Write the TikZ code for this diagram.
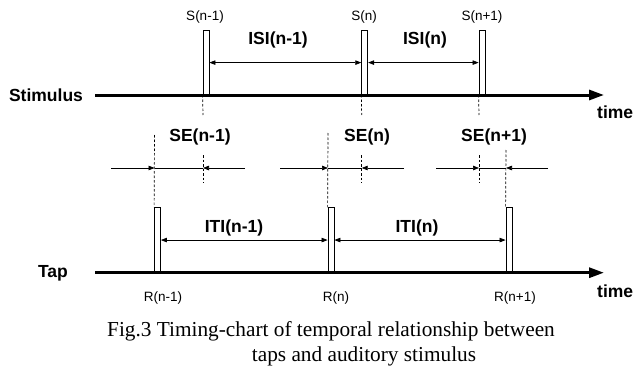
\documentclass[tikz,border=0pt]{standalone}
\usepackage{fontspec}
\setmainfont{Liberation Serif}
\setsansfont{Liberation Sans}
\usetikzlibrary{arrows.meta}
\tikzset{
  bar/.style={draw, fill=white, line width=0.8pt, minimum width=6pt, minimum height=64pt, inner sep=0pt, anchor=south},
  axisline/.style={line width=3pt, -{Triangle[length=15pt,width=10pt]}},
  dsh/.style={line width=0.7pt, dash pattern=on 2.5pt off 2pt},
  tip/.style={-{Triangle[length=6pt,width=4.5pt]}},
  dbl/.style={{Triangle[length=6pt,width=4.5pt]}-{Triangle[length=6pt,width=4.5pt]}},
  thin line/.style={line width=0.7pt},
  biglbl/.style={font=\sffamily\bfseries\fontsize{17.5}{20}\selectfont, inner sep=0pt},
  smalllbl/.style={font=\sffamily\fontsize{13.5}{15}\selectfont, inner sep=0pt},
  caplbl/.style={font=\fontsize{21.3}{24}\selectfont, inner sep=0pt, anchor=base west}
}
\begin{document}
\begin{tikzpicture}[x=1pt,y=-1pt]
\useasboundingbox (0,0) rectangle (637,369);

% stimulus bars
\node[bar] (s1) at (206,95) {};
\node[bar] (s2) at (364.7,95) {};
\node[bar] (s3) at (482,95) {};
% tap bars
\node[bar, minimum height=64.5pt] (r1) at (157.5,272.7) {};
\node[bar, minimum height=64.5pt] (r2) at (331,272.7) {};
\node[bar, minimum height=64.5pt] (r3) at (509,272.7) {};

% axes
\coordinate (sa) at (95,95);
\coordinate (sb) at (604,95);
\coordinate (ta) at (95,272.7);
\coordinate (tb) at (604,272.7);
\draw[axisline] (sa) -- (sb);
\draw[axisline] (ta) -- (tb);

% axis labels
\node[biglbl] (stim) at (46,95) {Stimulus};
\node[biglbl] (tap) at (53,273) {Tap};
\node[biglbl, anchor=west] (time1) at (597,112) {time};
\node[biglbl, anchor=west] (time2) at (597,291) {time};

% S labels
\node[smalllbl] (ls1) at (205,17) {S(n-1)};
\node[smalllbl] (ls2) at (364,17) {S(n)};
\node[smalllbl] (ls3) at (482,17) {S(n+1)};
% R labels
\node[smalllbl] (lr1) at (163,298) {R(n-1)};
\node[smalllbl] (lr2) at (336,298) {R(n)};
\node[smalllbl] (lr3) at (515,298) {R(n+1)};

% ISI
\draw[dbl, thin line] (s1.east) -- (s2.west);
\draw[dbl, thin line] (s2.east) -- (s3.west);
\node[biglbl] (isi1) at (278,40) {ISI(n-1)};
\node[biglbl] (isi2) at (425,40) {ISI(n)};

% ITI
\draw[dbl, thin line] (r1.east) -- (r2.west);
\draw[dbl, thin line] (r2.east) -- (r3.west);
\node[biglbl] (iti1) at (234,228) {ITI(n-1)};
\node[biglbl] (iti2) at (417,228) {ITI(n)};

% dashed from stimulus bars
\coordinate (sd1a) at (203,115); \coordinate (sd1b) at (203,155); \coordinate (sd1c) at (203,183);
\coordinate (sd2a) at (361.7,115); \coordinate (sd2b) at (361.7,155); \coordinate (sd2c) at (361.7,183);
\coordinate (sd3a) at (479,115); \coordinate (sd3b) at (479,155); \coordinate (sd3c) at (479,183);
\draw[dsh] (s1.south west) -- (sd1a);
\draw[dsh] (sd1b) -- (sd1c);
\draw[dsh] (s2.south west) -- (sd2a);
\draw[dsh] (sd2b) -- (sd2c);
\draw[dsh] (s3.south west) -- (sd3a);
\draw[dsh] (sd3b) -- (sd3c);

% dashed to tap bars
\coordinate (rd1) at (154.5,135);
\coordinate (rd2) at (328,133);
\coordinate (rd3) at (506,150);
\draw[dsh] (rd1) -- (r1.north west);
\draw[dsh] (rd2) -- (r2.north west);
\draw[dsh] (rd3) -- (r3.north west);

% SE arrows
\coordinate (e1a) at (111,168); \coordinate (e1b) at (154.5,168); \coordinate (e1c) at (203,168); \coordinate (e1d) at (245,168);
\coordinate (e2a) at (280,168); \coordinate (e2b) at (328,168); \coordinate (e2c) at (361.7,168); \coordinate (e2d) at (404,168);
\coordinate (e3a) at (436,168); \coordinate (e3b) at (479,168); \coordinate (e3c) at (506,168); \coordinate (e3d) at (548,168);
\draw[tip, thin line] (e1a) -- (e1b);
\draw[thin line] (e1b) -- (e1c);
\draw[tip, thin line] (e1d) -- (e1c);
\draw[tip, thin line] (e2a) -- (e2b);
\draw[thin line] (e2b) -- (e2c);
\draw[tip, thin line] (e2d) -- (e2c);
\draw[tip, thin line] (e3a) -- (e3b);
\draw[thin line] (e3b) -- (e3c);
\draw[tip, thin line] (e3d) -- (e3c);
\node[biglbl] (se1) at (200,137) {SE(n-1)};
\node[biglbl] (se2) at (367,137) {SE(n)};
\node[biglbl] (se3) at (494,137) {SE(n+1)};

% caption
\node[caplbl] (cap1) at (107,336.5) {Fig.3 Timing-chart of temporal relationship between};
\node[caplbl] (cap2) at (251.7,361.5) {taps and auditory stimulus};
\end{tikzpicture}
\end{document}
